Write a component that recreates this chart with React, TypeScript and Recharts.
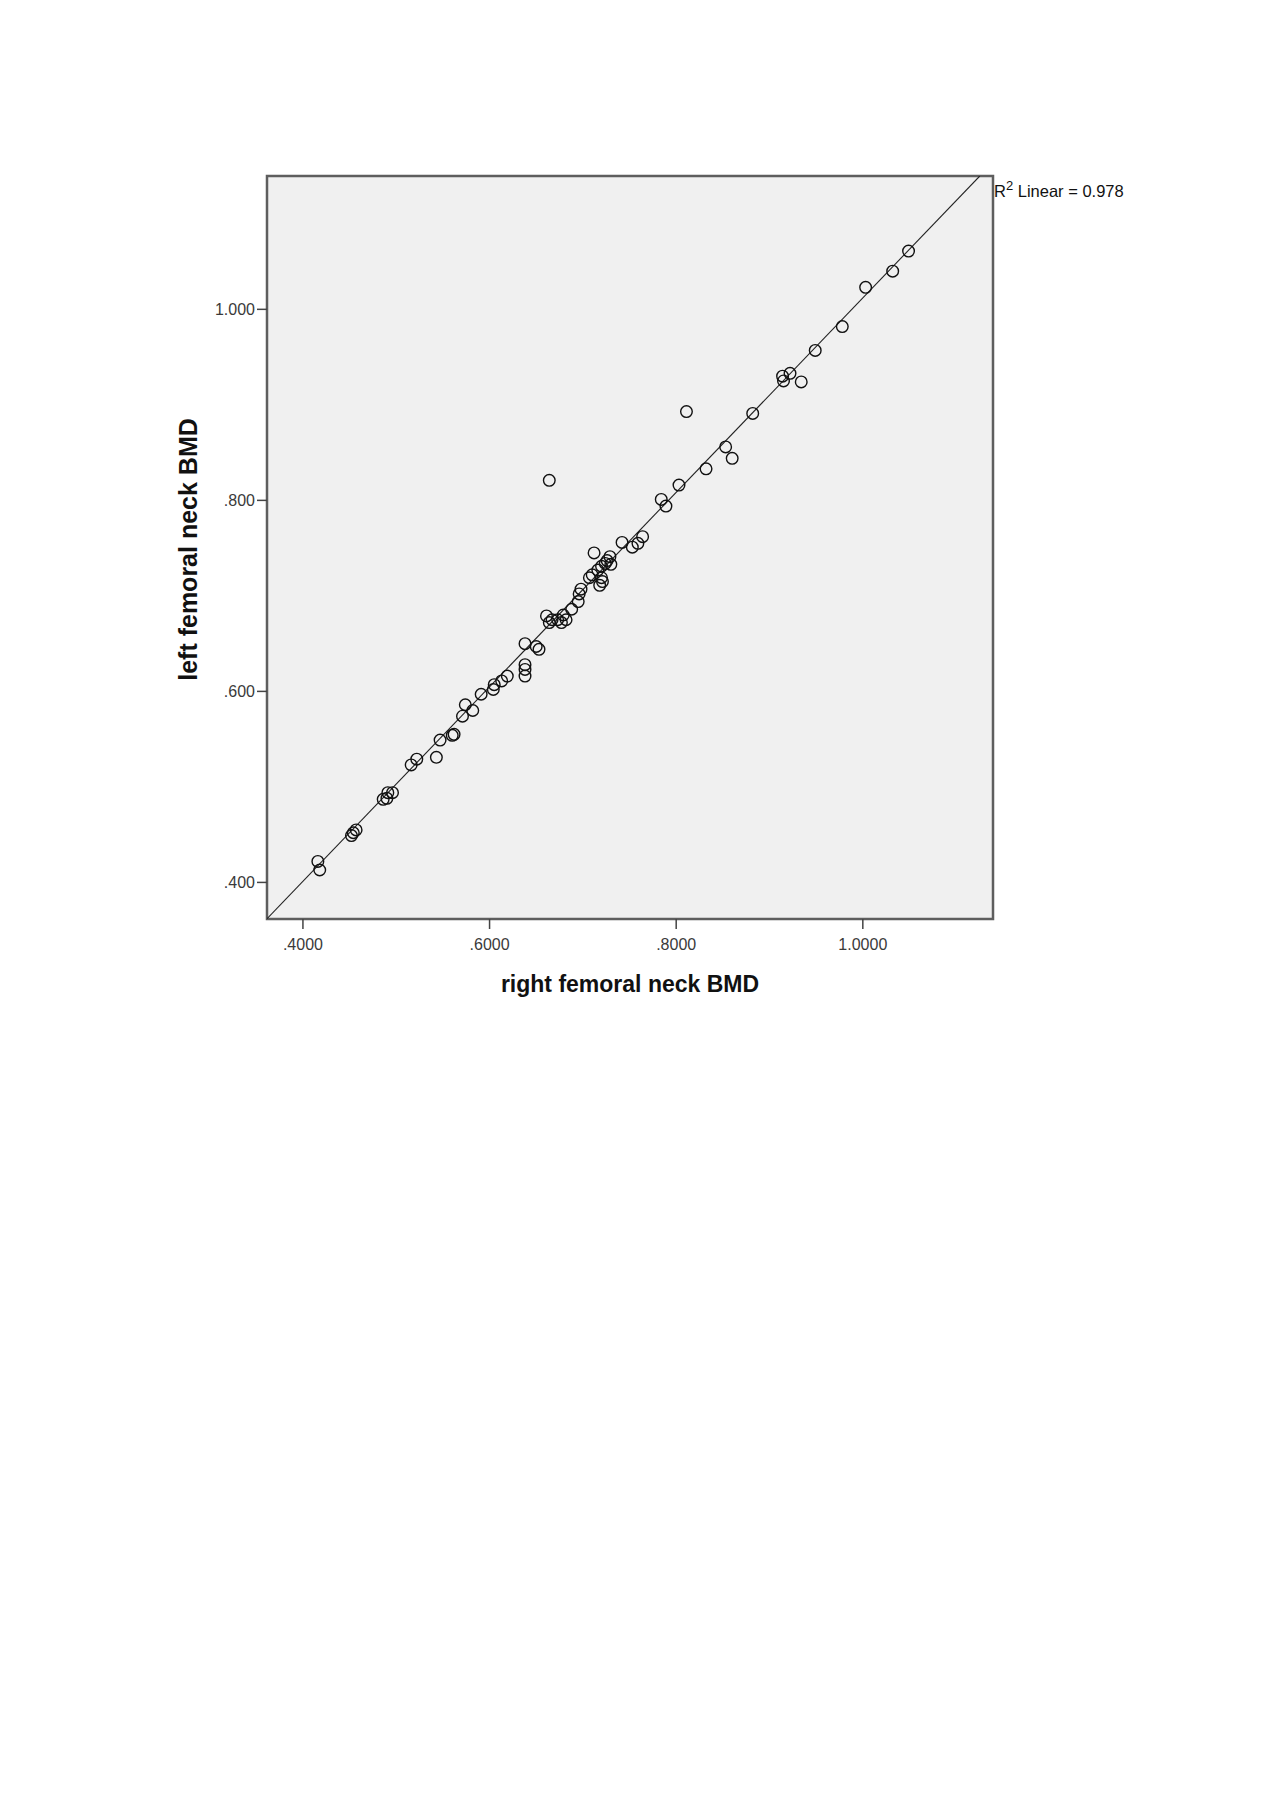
import { ScatterChart, Scatter, XAxis, YAxis, CartesianGrid, ReferenceLine, ReferenceArea, Label } from 'recharts';

// right femoral neck BMD (x) and left femoral neck BMD (y)
const rightBMD = [
  1.049, 1.032, 1.003, 0.978, 0.949, 0.914, 0.922, 0.915, 0.934,
  0.811, 0.882, 0.853, 0.860, 0.832, 0.803, 0.784, 0.789,
  0.664, 0.764, 0.759, 0.753, 0.742, 0.712, 0.729, 0.724, 0.720, 0.716, 0.730,
  0.707, 0.720, 0.721, 0.718, 0.698, 0.696, 0.710, 0.726,
  0.695, 0.688, 0.679, 0.673, 0.677, 0.682, 0.667, 0.661, 0.664,
  0.638, 0.650, 0.653, 0.638, 0.638, 0.638,
  0.619, 0.613, 0.605, 0.604, 0.591, 0.574, 0.582, 0.571,
  0.560, 0.562, 0.547, 0.543, 0.522, 0.516,
  0.491, 0.496, 0.486, 0.490, 0.454, 0.457, 0.452, 0.416, 0.418,
];
const leftBMD = [
  1.061, 1.040, 1.023, 0.982, 0.957, 0.930, 0.933, 0.925, 0.924,
  0.893, 0.891, 0.856, 0.844, 0.833, 0.816, 0.801, 0.794,
  0.821, 0.762, 0.755, 0.751, 0.756, 0.745, 0.741, 0.734, 0.731, 0.727, 0.733,
  0.719, 0.719, 0.715, 0.711, 0.707, 0.702, 0.722, 0.737,
  0.694, 0.686, 0.680, 0.675, 0.672, 0.675, 0.675, 0.679, 0.672,
  0.650, 0.647, 0.644, 0.628, 0.623, 0.616,
  0.616, 0.611, 0.607, 0.602, 0.597, 0.586, 0.580, 0.574,
  0.554, 0.555, 0.549, 0.531, 0.529, 0.523,
  0.494, 0.494, 0.487, 0.488, 0.452, 0.455, 0.449, 0.422, 0.413,
];

const xTicks = [0.4, 0.6, 0.8, 1.0];
const yTicks = [0.4, 0.6, 0.8, 1.0];
const X_DOMAIN: [number, number] = [0.3615, 1.1395];
const Y_DOMAIN: [number, number] = [0.3617, 1.1396];

// fit line as drawn (R2 Linear = 0.978)
const FIT_INTERCEPT = -0.006;
const FIT_SLOPE = 1.018;
const R2_TEXT = '0.978';

const data = rightBMD.map((x, i) => ({ x, y: leftBMD[i] }));

const fitStartX = X_DOMAIN[0];
const fitEndX = (Y_DOMAIN[1] - FIT_INTERCEPT) / FIT_SLOPE;

const FONT = '"Liberation Sans", Arial, sans-serif';

const fmtX = (v: number) => v.toFixed(4).replace(/^0\./, '.');
const fmtY = (v: number) => v.toFixed(3).replace(/^0\./, '.');

const RingDot = (p: any) => (
  <circle cx={p.cx} cy={p.cy} r={5.8} fill="none" stroke="#111" strokeWidth={1.4} />
);

export default function App() {
  return (
    <div style={{ position: 'relative', width: 1264, height: 1020, fontFamily: FONT }}>
      <ScatterChart
        width={1264}
        height={1020}
        margin={{ top: 168, right: 279, bottom: 49, left: 199 }}
      >
        <CartesianGrid horizontal={false} vertical={false} fill="#f0f0f0" />
        <XAxis
          type="number"
          dataKey="x"
          domain={X_DOMAIN}
          allowDataOverflow
          ticks={xTicks}
          tickFormatter={fmtX}
          height={60}
          tickSize={10}
          tickMargin={10}
          axisLine={false}
          tickLine={{ stroke: '#444', strokeWidth: 1.5 }}
          tick={{ fill: '#3a3a3a', fontSize: 16, fontFamily: FONT }}
        >
          <Label
            content={(props: any) => {
              const vb = props.viewBox;
              return (
                <text
                  x={vb.x + vb.width / 2}
                  y={vb.y + 73}
                  textAnchor="middle"
                  fontFamily={FONT}
                  fontWeight="bold"
                  fontSize={23}
                  fill="#111"
                >
                  right femoral neck BMD
                </text>
              );
            }}
          />
        </XAxis>
        <YAxis
          type="number"
          dataKey="y"
          domain={Y_DOMAIN}
          allowDataOverflow
          ticks={yTicks}
          tickFormatter={fmtY}
          width={60}
          tickSize={10}
          tickMargin={2}
          axisLine={false}
          tickLine={{ stroke: '#444', strokeWidth: 1.5 }}
          tick={{ fill: '#3a3a3a', fontSize: 16, fontFamily: FONT }}
        >
          <Label
            content={(props: any) => {
              const vb = props.viewBox;
              const cx = 180;
              const cy = vb.y + vb.height / 2 + 2;
              return (
                <text
                  x={cx}
                  y={cy}
                  transform={`rotate(-90, ${cx}, ${cy})`}
                  textAnchor="middle"
                  dominantBaseline="central"
                  fontFamily={FONT}
                  fontWeight="bold"
                  fontSize={25}
                  fill="#111"
                >
                  left femoral neck BMD
                </text>
              );
            }}
          />
        </YAxis>
        <ReferenceArea
          x1={X_DOMAIN[0]}
          x2={X_DOMAIN[1]}
          y1={Y_DOMAIN[0]}
          y2={Y_DOMAIN[1]}
          fill="none"
          stroke="#5e5e5e"
          strokeWidth={2.5}
        />
        <ReferenceLine
          segment={[
            { x: fitStartX, y: FIT_INTERCEPT + FIT_SLOPE * fitStartX },
            { x: fitEndX, y: Y_DOMAIN[1] },
          ]}
          stroke="#222"
          strokeWidth={1.1}
          ifOverflow="hidden"
        />
        <Scatter data={data} shape={RingDot} isAnimationActive={false} />
      </ScatterChart>
      <div
        style={{
          position: 'absolute',
          left: 986,
          top: 175,
          fontSize: 16.5,
          lineHeight: 1,
          color: '#111',
          whiteSpace: 'nowrap',
        }}
      >
        R<sup style={{ fontSize: 13, verticalAlign: 'top', position: 'relative', top: -4 }}>2</sup> Linear = {R2_TEXT}
      </div>
    </div>
  );
}
